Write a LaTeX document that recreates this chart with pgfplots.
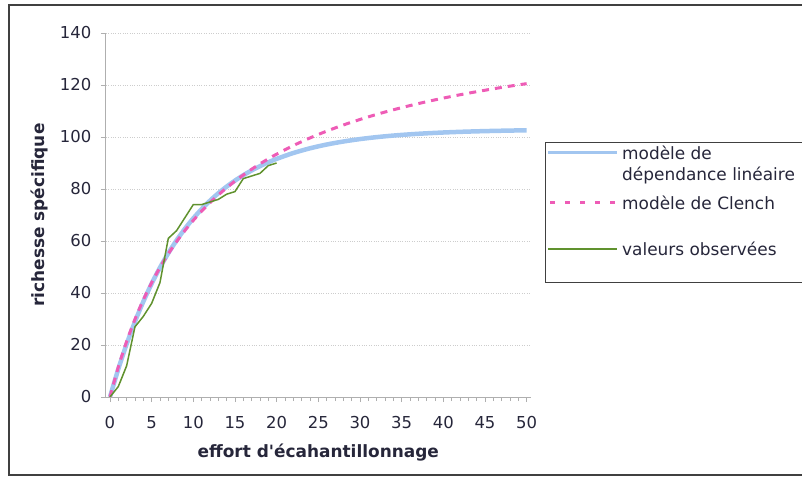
\documentclass[border=0pt]{standalone}
\usepackage{pgfplots}
\pgfplotsset{compat=1.18}
\usepackage{fontspec}
\setmainfont{DejaVu Sans}

\definecolor{lineblue}{RGB}{162,198,240}
\definecolor{clenchpink}{RGB}{238,92,182}
\definecolor{obsgreen}{RGB}{96,146,46}
\definecolor{txt}{RGB}{38,38,58}
\definecolor{gridc}{RGB}{205,205,205}
\definecolor{axisc}{RGB}{175,175,175}

% modele de dependance lineaire
\pgfplotstableread{
x y
0 0
1 10.73
2 20.34
3 28.95
4 36.67
5 43.58
6 49.76
7 55.31
8 60.28
9 64.73
10 68.71
11 72.28
12 75.49
13 78.35
14 80.92
15 83.22
16 85.28
17 87.13
18 88.78
19 90.26
20 91.59
22 93.84
24 95.65
26 97.10
28 98.26
30 99.20
32 99.95
34 100.55
36 101.03
38 101.42
40 101.73
42 101.98
44 102.18
46 102.34
48 102.47
50 102.58
}\lineaire

% modele de Clench
\pgfplotstableread{
x y
0 0
1 11.49
2 21.34
3 29.88
4 37.35
5 43.95
6 49.81
7 55.05
8 59.77
9 64.04
10 67.92
11 71.47
12 74.71
13 77.70
14 80.46
15 83.02
16 85.39
17 87.60
18 89.66
19 91.59
20 93.40
22 96.70
24 99.63
26 102.25
28 104.61
30 106.74
32 108.69
34 110.46
36 112.08
38 113.58
40 114.96
42 116.24
44 117.42
46 118.53
48 119.56
50 120.52
}\clench

% valeurs observees
\pgfplotstableread{
x y
0 0
1 4
2 12
3 27
4 31
5 36
6 44
7 61
8 64
9 69
10 74
11 74
12 75
13 76
14 78
15 79
16 84
17 85
18 86
19 89
20 90
}\observees

\begin{document}
\begin{tikzpicture}
\useasboundingbox (0bp,0bp) rectangle (802bp,478bp);
\draw[black!75, line width=1.2bp] (9bp,3bp) rectangle (812bp,473bp);
\begin{axis}[
  at={(105.8bp,81bp)}, anchor=south west,
  scale only axis, width=425bp, height=364bp,
  xmin=-0.5, xmax=50.5, ymin=0, ymax=140,
  axis lines*=left,
  axis line style={axisc, line width=0.8bp},
  xtick={0,5,...,50}, ytick={0,20,...,140},
  minor x tick num=4,
  tick align=outside,
  major tick length=5bp, minor tick length=4bp,
  tick style={axisc, line width=0.6bp},
  ymajorgrids,
  major grid style={gridc, dotted, line width=0.8bp},
  /pgf/number format/assume math mode=true,
  ticklabel style={font=\fontsize{16.5}{20}\selectfont, text=txt},
  yticklabel style={xshift=-6bp},
  xticklabel style={yshift=-11bp},
  every axis x label/.style={at={(axis description cs:0.5,-0.153)}, anchor=center,
    font=\fontsize{17}{20}\selectfont\bfseries, text=txt},
  every axis y label/.style={at={(axis description cs:-0.155,0.5)}, anchor=center, rotate=90,
    font=\fontsize{17}{20}\selectfont\bfseries, text=txt},
  xlabel={effort d\textquotesingle écahantillonnage},
  ylabel={richesse spécifique},
]
\addplot[lineblue, line width=4.5bp, smooth] table {\lineaire};
\addplot[clenchpink, line width=3bp, dash pattern=on 7bp off 6bp, smooth] table {\clench};
\addplot[obsgreen, line width=1.5bp] table {\observees};
\end{axis}

% legende
\begin{scope}[x=1bp, y=1bp]
\draw[black!75, line width=1bp] (545,335) rectangle (812,195);
\begin{scope}[every node/.style={anchor=west, inner sep=0pt, text=txt, font=\fontsize{17}{21}\selectfont}]
\draw[lineblue, line width=3bp] (548,325) -- (617,325);
\node at (622,325) {modèle de};
\node at (622,303) {dépendance linéaire};
\draw[clenchpink, line width=3bp, dash pattern=on 5bp off 10bp] (550,275) -- (617,275);
\node at (622,275) {modèle de Clench};
\draw[obsgreen, line width=1.5bp] (548,229) -- (617,229);
\node at (622,229) {valeurs observées};
\end{scope}
\end{scope}
\end{tikzpicture}
\end{document}
